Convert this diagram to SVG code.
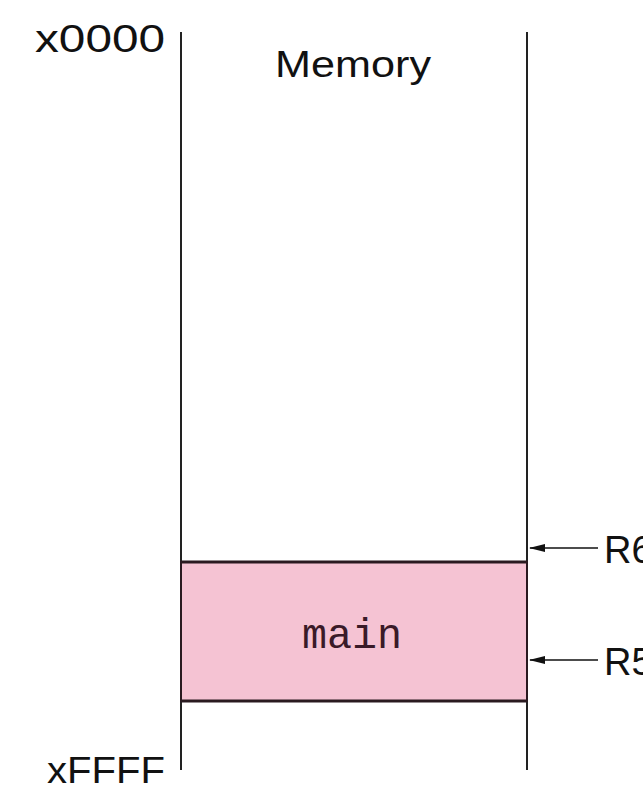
<svg xmlns="http://www.w3.org/2000/svg" width="643" height="788" viewBox="0 0 643 788">
<defs>
<style>
.t{font-family:"Liberation Sans",Arial,sans-serif;fill:#111}
.ln{stroke:#222;stroke-width:2;fill:none}
.c{stroke:#111;stroke-width:1.5;fill:none}
</style>
<marker id="ah" markerWidth="16" markerHeight="10" refX="15" refY="5" orient="auto" markerUnits="userSpaceOnUse">
<path d="M0,1 L16,5 L0,9 Z" fill="#111"/>
</marker>
</defs>
<rect width="643" height="788" fill="#fff"/>
<g id="memory">
<line class="ln" x1="181" y1="32" x2="181" y2="770"/>
<line class="ln" x1="527" y1="32" x2="527" y2="770"/>
<text class="t" x="275" y="77" font-size="37" textLength="156" lengthAdjust="spacingAndGlyphs">Memory</text>
</g>
<g id="main">
<rect x="181" y="562" width="346" height="139" fill="#f5c3d3" stroke="#2a1a20" stroke-width="2"/>
<line x1="181" y1="562" x2="527" y2="562" stroke="#2a1a20" stroke-width="3"/>
<line x1="181" y1="701" x2="527" y2="701" stroke="#2a1a20" stroke-width="3"/>
<text x="302" y="648" style="font-family:'Liberation Mono','DejaVu Sans Mono',monospace;font-size:42px;fill:#3a1a28" textLength="100" lengthAdjust="spacingAndGlyphs">main</text>
</g>
<g id="addr-top"><text class="t" x="35" y="52" font-size="38" textLength="130" lengthAdjust="spacingAndGlyphs">x0000</text></g>
<g id="addr-bottom"><text class="t" x="47" y="783" font-size="36" textLength="118" lengthAdjust="spacingAndGlyphs">xFFFF</text></g>
<g id="label-r6"><text class="t" x="604" y="563" font-size="38">R6</text></g>
<g id="label-r5"><text class="t" x="604" y="675" font-size="38">R5</text></g>
<g id="connectors">
<line class="c" x1="598" y1="548" x2="530" y2="548" marker-end="url(#ah)"/>
<line class="c" x1="598" y1="660" x2="530" y2="660" marker-end="url(#ah)"/>
</g>
</svg>
